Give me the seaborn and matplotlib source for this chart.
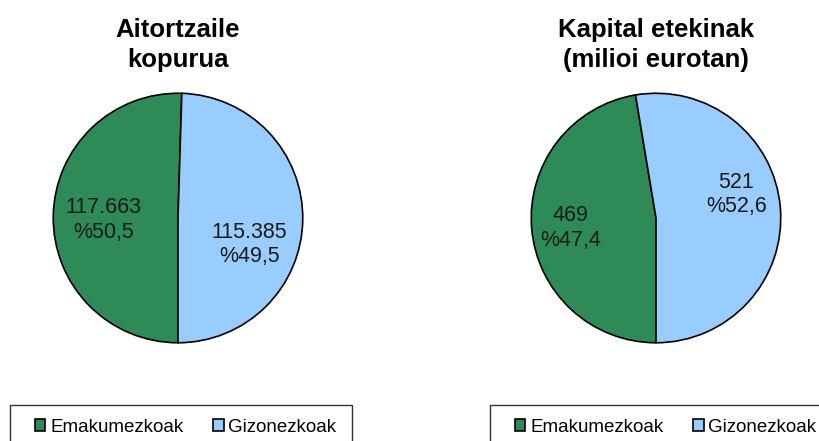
import numpy as np
import matplotlib
matplotlib.use('Agg')
import matplotlib.pyplot as plt
from matplotlib.patches import Patch, Rectangle
import seaborn as sns

sns.set_theme(style="white")
plt.rcParams['font.family'] = ['Liberation Sans', 'DejaVu Sans']
plt.rcParams['text.color'] = 'black'

# Data
categories = ["Emakumezkoak", "Gizonezkoak"]
colors = ["#2E8B57", "#99CCFF"]

titles = ["Aitortzaile\nkopurua", "Kapital etekinak\n(milioi eurotan)"]
values_count = [117663, 115385]
labels_count = ["117.663\n%50,5", "115.385\n%49,5"]
values_income = [469, 521]
labels_income = ["469\n%47,4", "521\n%52,6"]

W, H = 819, 441
fig = plt.figure(figsize=(W / 100, H / 100), dpi=100)
fig.patch.set_facecolor("white")

# pie centre x, label offsets (dist, angle shift) per pie
pies = [
    (178, values_count, labels_count, titles[0], [(0.60, 2.4), (0.61, -19.7)]),
    (656, values_income, labels_income, titles[1], [(0.69, 2.0), (0.67, 11.5)]),
]

r_px = 126
cy = 218
for cx, vals, labs, title, offs in pies:
    ax = fig.add_axes([(cx - r_px) / W, 1 - (cy + r_px) / H, 2 * r_px / W, 2 * r_px / H])
    wedges, _ = ax.pie(vals, colors=colors, startangle=270, counterclock=False,
                       wedgeprops=dict(edgecolor="black", linewidth=1.2))
    ax.set_xlim(-1.01, 1.01)
    ax.set_ylim(-1.01, 1.01)
    ax.set_aspect("equal")
    for w, lab, (d, shift) in zip(wedges, labs, offs):
        ang = np.deg2rad((w.theta1 + w.theta2) / 2 + shift)
        ax.text(d * np.cos(ang), d * np.sin(ang), lab, ha="center", va="center",
                fontsize=15.5, color="#1a1a1a", linespacing=1.2)
    fig.text(cx / W, 1 - 45 / H, title, ha="center", va="center",
             fontsize=18.5, fontweight="bold", linespacing=1.28)

# legend boxes
handles = [Patch(facecolor=c, edgecolor="black", linewidth=1.2) for c in colors]
for x0, x1 in [(10, 352), (490, 835)]:
    fig.patches.append(Rectangle((x0 / W, -0.05), (x1 - x0) / W, 0.05 + (H - 405) / H,
                                 transform=fig.transFigure, facecolor="white",
                                 edgecolor="#333333", linewidth=1, clip_on=False))
    fig.legend(handles, categories, ncol=2, frameon=False, fontsize=13.5,
               loc="center left", bbox_to_anchor=((x0 + 25) / W, 1 - 427 / H),
               handlelength=0.55, handleheight=0.55, handletextpad=0.25,
               columnspacing=1.6, borderpad=0, borderaxespad=0)

plt.savefig("out.png", dpi=100)
plt.close()
